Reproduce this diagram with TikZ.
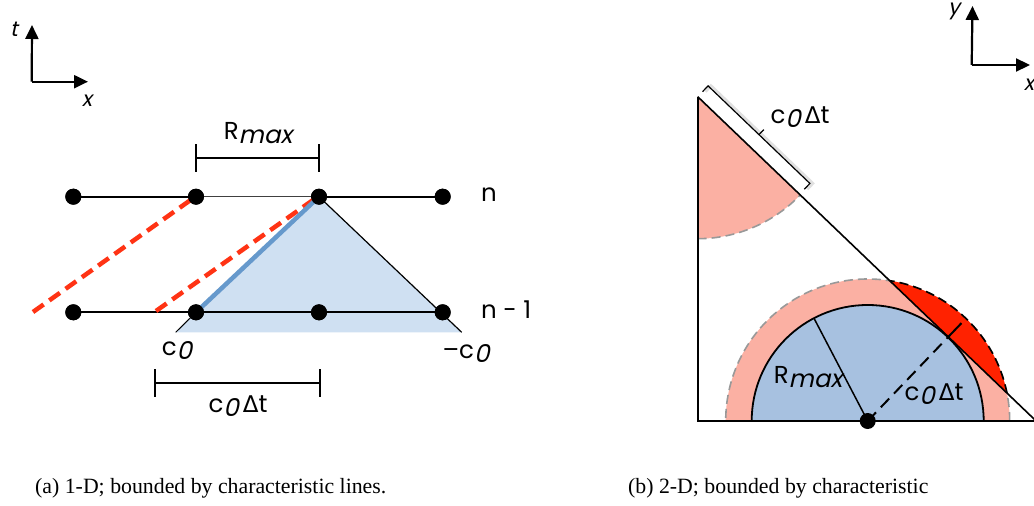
\documentclass[tikz,border=0pt]{standalone}
\usepackage{fontspec}
\setmainfont{Liberation Serif}
\newfontfamily\lab{Poppins}
\newfontfamily\labit{Poppins}[FakeSlant=0.22]
\newfontfamily\labd{DejaVu Sans}
\usetikzlibrary{arrows.meta,calc}
\definecolor{triblue}{HTML}{CFE0F2}
\definecolor{lineblue}{HTML}{6699CC}
\definecolor{dashred}{HTML}{FF3314}
\definecolor{salmon}{HTML}{FBB0A3}
\definecolor{semiblue}{HTML}{A7C1E0}
\definecolor{deepred}{HTML}{FF2200}
\newcommand{\mysub}[1]{\raisebox{-0.32ex}{\labit #1}}
\newcommand{\czdt}{c\mysub{0}\,{\labd\fontsize{23}{23}\selectfont Δ}t}
\tikzset{
  lbl/.style={font=\lab\fontsize{24.5}{24.5}\selectfont, inner sep=0pt},
  axl/.style={font=\labit\fontsize{21}{21}\selectfont, inner sep=0pt},
  axis/.style={line width=2.2pt, -{Triangle[length=14pt,width=13pt]}},
  dot/.style={circle, fill=black, inner sep=0pt, minimum size=16pt},
  thick2/.style={line width=2.2pt},
  reddash/.style={dashred, line width=4.5pt, dash pattern=on 13pt off 7pt},
  captext/.style={font=\fontsize{21.8}{21.8}\selectfont, inner sep=0pt, anchor=west},
}
\begin{document}
\begin{tikzpicture}[x=1pt,y=1pt]
\clip (0,0) rectangle (1034,-506);
\fill[white] (0,0) rectangle (1034,-506);
% ---------------- left panel ----------------
\coordinate (o1) at (31.7,-81.7);
\coordinate (tt) at (32,-25);
\coordinate (tx) at (88,-81.7);
\draw[axis] (o1) -- (tt);
\draw[axis] (o1) -- (tx);
\node[axl] (lt) at (14,-29) {t};
\node[axl] (lx) at (87,-101) {x};
% triangle
\coordinate (pk) at (319,-196.7);
\coordinate (bl) at (175.7,-332.3);
\coordinate (br) at (461.7,-332.3);
\fill[triblue] (pk) -- (bl) -- (br) -- cycle;
\node[dot] (t1) at (73.3,-196.7) {};
\node[dot] (t2) at (196,-196.7) {};
\node[dot] (t3) at (319,-196.7) {};
\node[dot] (t4) at (442.7,-196.7) {};
\node[dot] (b1) at (73.3,-312.3) {};
\node[dot] (b2) at (196,-312.3) {};
\node[dot] (b3) at (319,-312.3) {};
\node[dot] (b4) at (442.7,-312.3) {};
\draw[line width=1.2pt] (pk) -- (br);
\draw[line width=1pt] (bl) -- (b2.center);
\draw[thick2] (t1.center) -- (t2.center);
\draw[line width=1.2pt, black!75] (t2.center) -- (t3.center);
\draw[thick2] (t3.center) -- (t4.center);
\draw[thick2] (b1.center) -- (b2.center) -- (b3.center) -- (b4.center);
\coordinate (r1a) at (33,-312);
\coordinate (r1b) at (192,-199);
\coordinate (r2a) at (156,-311);
\coordinate (r2b) at (313,-200);
\draw[reddash] (r1a) -- (r1b);
\draw[reddash] (r2a) -- (r2b);
\draw[lineblue, line width=4.5pt] (b2.center) -- (t3.center);
\foreach \n in {t1,t2,t3,t4,b1,b2,b3,b4} \fill (\n) circle (8);
\node[lbl, anchor=west] (ln) at (481,-195) {n};
\node[lbl, anchor=west] (ln1) at (481,-310) {n - 1};
% R_max bracket
\coordinate (ra) at (196,-157.7);
\coordinate (rb) at (319,-157.7);
\draw[thick2] (ra) -- (rb);
\draw[thick2] ($(ra)+(0,13.7)$) -- ($(ra)+(0,-14.3)$);
\draw[thick2] ($(rb)+(0,13.7)$) -- ($(rb)+(0,-14.3)$);
\node[lbl] (lrmax) at (258,-133) {R\mysub{max}};
\node[lbl] (lc0) at (177,-351) {c\mysub{0}};
\node[lbl] (lmc0) at (466,-354) {–c\mysub{0}};
% c0 dt bracket
\coordinate (ca) at (155,-382.7);
\coordinate (cb) at (320,-382.7);
\draw[thick2] (ca) -- (cb);
\draw[thick2] ($(ca)+(0,13.7)$) -- ($(ca)+(0,-14.3)$);
\draw[thick2] ($(cb)+(0,13.7)$) -- ($(cb)+(0,-14.3)$);
\node[lbl] (lcdt) at (238,-406) {\czdt};
% ---------------- right panel ----------------
\coordinate (o2) at (971.7,-65);
\coordinate (yt) at (972.5,-6);
\coordinate (xt) at (1030,-65);
\draw[axis] (o2) -- (yt);
\draw[axis] (o2) -- (xt);
\node[axl] (ly) at (954,-11) {y};
\node[axl] (lx2) at (1029,-85) {x};
\coordinate (A) at (697.7,-96.7);
\coordinate (C) at (867.7,-421);
\coordinate (B) at ($(A)+(-43.78:520)$);
\coordinate (D) at (697.7,-421);
\coordinate (E) at (1100,-421);
\coordinate (F) at ($(A)!(C)!(B)$);
% top-left sector
\fill[salmon] (A) -- ++(-90:142) arc[start angle=-90, end angle=-43.78, radius=142] -- cycle;
\draw[black!40, line width=1.6pt, dash pattern=on 9pt off 5pt] ($(A)+(-90:142)$) arc[start angle=-90, end angle=-43.78, radius=142];
% outer semicircle
\fill[salmon] ($(C)+(142,0)$) arc[start angle=0, end angle=180, radius=142] -- cycle;
\draw[black!40, line width=1.6pt, dash pattern=on 9pt off 5pt] ($(C)+(142,0)$) arc[start angle=0, end angle=180, radius=142];
\begin{scope}
  \clip (A) -- (B) -- (1200,0) -- cycle;
  \fill[deepred] ($(C)+(142,0)$) arc[start angle=0, end angle=180, radius=142] -- cycle;
  \draw[black, line width=1.6pt, dash pattern=on 9pt off 5pt] ($(C)+(142,0)$) arc[start angle=0, end angle=180, radius=142];
\end{scope}
% inner semicircle
\filldraw[fill=semiblue, draw=black, line width=1.8pt] ($(C)+(116,0)$) arc[start angle=0, end angle=180, radius=116] -- cycle;
\draw[line width=1.5pt] (C) -- ($(C)+(117.6:116)$);
\draw[line width=2pt, dash pattern=on 12pt off 7pt] (C) -- (F);
\draw[line width=2pt] (F) -- ($(F)!-19pt!(C)$);
% triangle edges
\draw[line width=1.6pt] (A) -- (D) -- (E);
\draw[line width=1.6pt] (A) -- (B);
\node[dot] (cd) at (C) {};
\node[lbl] (lrm2) at (808,-377) {R\mysub{max}};
\node[lbl] (lcd2) at (934,-394) {\czdt};
% bracket along the hypotenuse
\draw[black!12, line width=3pt] ($(A)+(46.22:9)+(-43.78:2)$) -- ++(46.22:8) -- ++(-43.78:141) -- ++(46.22:-8);
\draw[line width=1.2pt] ($(A)+(46.22:7)$) -- ++(46.22:8) coordinate (q1) -- ++(-43.78:141) coordinate (q2) -- ++(46.22:-8);
\draw[line width=1.2pt] ($(q1)!0.5!(q2)$) -- ++(46.22:7);
\node[lbl] (lcd3) at (800,-117) {\czdt};
% captions
\node[captext] (capa) at (35,-488) {(a) 1-D; bounded by characteristic lines.};
\node[captext] (capb) at (628,-488) {(b) 2-D; bounded by characteristic};
\end{tikzpicture}
\end{document}
